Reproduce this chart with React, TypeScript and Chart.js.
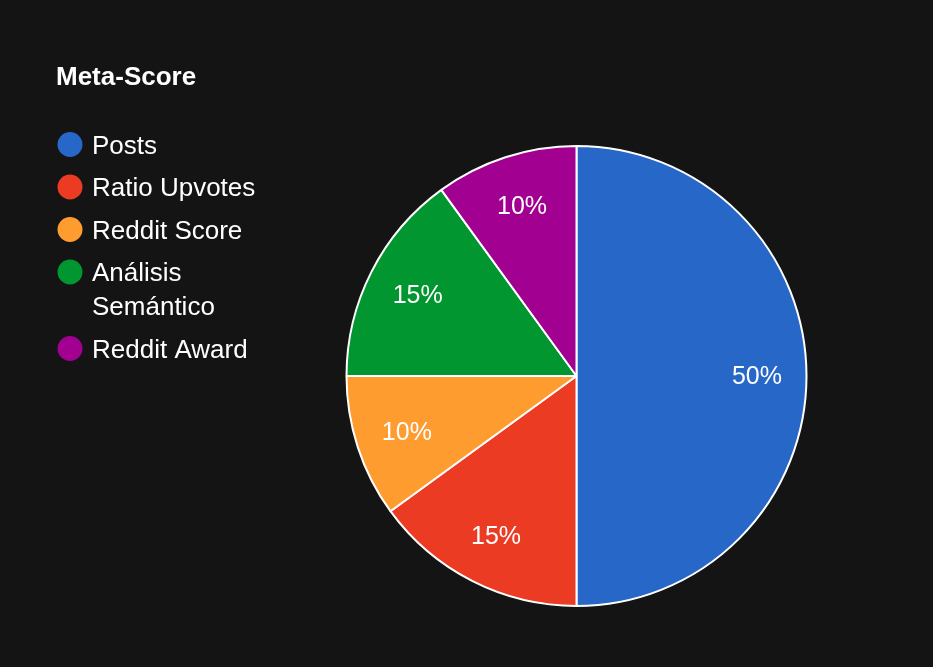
import { useEffect, useRef } from "react";
import { Chart, registerables } from "chart.js";

Chart.register(...registerables);

const TITLE = "Meta-Score";
const categories = ["Posts", "Ratio Upvotes", "Reddit Score", "Análisis Semántico", "Reddit Award"];
const values = [50, 15, 10, 15, 10];
const colors = ["#2767c8", "#eb3b22", "#ff9c30", "#01962f", "#a10090"];

const BG = "#141414";
const FONT = '"Liberation Sans", Arial, Helvetica, sans-serif';

function wrapText(ctx: CanvasRenderingContext2D, text: string, maxWidth: number): string[] {
  const words = text.split(" ");
  const lines: string[] = [];
  let cur = "";
  for (const w of words) {
    const test = cur ? cur + " " + w : w;
    if (ctx.measureText(test).width > maxWidth && cur) {
      lines.push(cur);
      cur = w;
    } else {
      cur = test;
    }
  }
  if (cur) lines.push(cur);
  return lines;
}

const overlayPlugin = {
  id: "overlay",
  beforeDraw(chart: any) {
    const ctx = chart.ctx as CanvasRenderingContext2D;
    ctx.save();
    ctx.fillStyle = BG;
    ctx.fillRect(0, 0, chart.width, chart.height);
    ctx.restore();
  },
  afterDatasetsDraw(chart: any) {
    const ctx = chart.ctx as CanvasRenderingContext2D;
    const meta = chart.getDatasetMeta(0);
    const data = chart.data.datasets[0].data as number[];
    const total = data.reduce((a, b) => a + b, 0);
    ctx.save();
    ctx.fillStyle = "#ffffff";
    ctx.font = `25px ${FONT}`;
    ctx.textAlign = "center";
    ctx.textBaseline = "middle";
    meta.data.forEach((arc: any, i: number) => {
      const { x, y, startAngle, endAngle, outerRadius } = arc.getProps(
        ["x", "y", "startAngle", "endAngle", "outerRadius"],
        true
      );
      const mid = (startAngle + endAngle) / 2;
      const r = outerRadius * 0.78;
      const pct = Math.round((data[i] / total) * 100) + "%";
      ctx.fillText(pct, x + Math.cos(mid) * r + 1, y + Math.sin(mid) * r + 1.5);
    });
    ctx.restore();
  },
  afterDraw(chart: any) {
    const ctx = chart.ctx as CanvasRenderingContext2D;
    ctx.save();
    // Title
    ctx.fillStyle = "#ffffff";
    ctx.font = `bold 26px ${FONT}`;
    ctx.textAlign = "left";
    ctx.textBaseline = "alphabetic";
    ctx.fillText(TITLE, 56, 85);

    // Legend
    ctx.font = `26px ${FONT}`;
    const labels = chart.data.labels as string[];
    const bg = chart.data.datasets[0].backgroundColor as string[];
    let baseline = 153.5;
    labels.forEach((label, i) => {
      const lines = wrapText(ctx, label, 170);
      ctx.beginPath();
      ctx.fillStyle = bg[i];
      ctx.arc(70, baseline - 9, 12.5, 0, Math.PI * 2);
      ctx.fill();
      ctx.fillStyle = "#ffffff";
      lines.forEach((ln, j) => {
        ctx.fillText(ln, 92, baseline + j * 34);
      });
      baseline += (lines.length - 1) * 34 + 42.5;
    });
    ctx.restore();
  },
};

export default function App() {
  const canvasRef = useRef<HTMLCanvasElement | null>(null);

  useEffect(() => {
    document.body.style.margin = "0";
    document.body.style.background = BG;
    const canvas = canvasRef.current;
    if (!canvas) return;
    const chart = new Chart(canvas, {
      type: "pie",
      data: {
        labels: categories,
        datasets: [
          {
            data: values,
            backgroundColor: colors,
            borderColor: "#ffffff",
            borderWidth: 2,
            hoverOffset: 0,
          },
        ],
      },
      options: {
        responsive: false,
        animation: false,
        events: [],
        radius: 230,
        layout: { padding: { left: 346, right: 126, top: 145, bottom: 60 } },
        plugins: {
          legend: { display: false },
          title: { display: false },
          tooltip: { enabled: false },
        },
      } as any,
      plugins: [overlayPlugin],
    });
    return () => chart.destroy();
  }, []);

  return (
    <div style={{ width: 933, height: 667, background: BG }}>
      <canvas ref={canvasRef} width={933} height={667} style={{ display: "block" }} />
    </div>
  );
}
